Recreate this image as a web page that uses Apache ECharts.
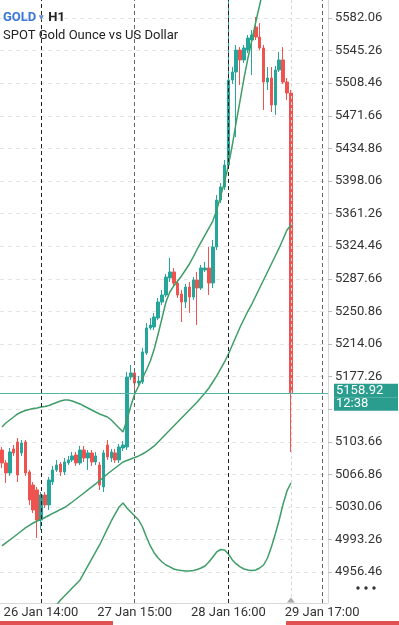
<!DOCTYPE html>
<html>
<head>
<meta charset="utf-8">
<title>GOLD H1</title>
<script src="https://cdn.jsdelivr.net/npm/echarts@6.0.0/dist/echarts.min.js"></script>
<style>
  html, body { margin: 0; padding: 0; background: #fff; }
  #goldChart { width: 399px; height: 625px; }
</style>
</head>
<body>
<div id="goldChart"></div>
<script>
// hourly bars, first one is 26 Jan 04:00, market closed 00:00-01:00
var days = ['26 Jan', '27 Jan', '28 Jan', '29 Jan'];
var firstHour = 4;
var slotCount = 84;
var labelTimes = ['26 Jan 14:00', '27 Jan 15:00', '28 Jan 16:00', '29 Jan 17:00'];

var opens = [5094.4, 5079.8, 5068.5, 5095.6, 5103.5, 5091.1, 5103.5, 5069.6, 5054.9, 5049.3,
  5015.4, 5043.6, 5032.4, 5058.3, 5071.9, 5078.6, 5069.6, 5079.8, 5083.2, 5088.8,
  5079.8, 5094.4, 5085.4, 5091.1, 5080.9, 5077.5, 5052.7, 5100.1, 5085.4, 5091.1,
  5083.2, 5096.7, 5097.8, 5176.8, 5181.4, 5170.1, 5171.2, 5203.9, 5232.2, 5233.3,
  5243.4, 5261.5, 5269.4, 5288.6, 5295.4, 5282.9, 5270.5, 5261.5, 5278.4, 5267.1,
  5286.3, 5277.3, 5297.6, 5299.9, 5282.9, 5323.6, 5376.6, 5391.3, 5416.1, 5512.1,
  5521.1, 5545.9, 5534.7, 5545.9, 5557.2, 5571.9, 5560.6, 5548.2, 5509.8, 5514.3,
  5483.9, 5523.4, 5534.7, 5509.8, 5497.4];
var closes = [5079.8, 5068.5, 5092.2, 5091.1, 5066.2, 5102.3, 5068.5, 5038.0, 5026.7, 5015.4,
  5043.6, 5032.4, 5060.6, 5071.9, 5077.5, 5069.6, 5080.9, 5083.2, 5087.7, 5079.8,
  5094.4, 5085.4, 5091.1, 5080.9, 5087.7, 5054.9, 5091.1, 5086.5, 5092.2, 5083.2,
  5097.8, 5100.1, 5176.8, 5181.4, 5170.1, 5172.3, 5205.1, 5232.2, 5235.5, 5244.6,
  5261.5, 5269.4, 5289.7, 5295.4, 5282.9, 5269.4, 5261.5, 5278.4, 5267.1, 5286.3,
  5277.3, 5299.9, 5299.9, 5282.9, 5323.6, 5376.6, 5391.3, 5416.1, 5512.1, 5521.1,
  5545.9, 5534.7, 5548.2, 5559.5, 5562.9, 5560.6, 5548.2, 5509.8, 5514.3, 5483.9,
  5523.4, 5534.7, 5509.8, 5497.4, 5158.92];
var lows = [5074.1, 5057.2, 5065.1, 5087.7, 5058.3, 5087.7, 5065.1, 5032.4, 5023.3, 4995.1,
  5004.1, 5029.0, 5026.7, 5054.9, 5069.6, 5065.1, 5066.2, 5077.5, 5080.9, 5076.4,
  5077.5, 5080.9, 5071.9, 5076.4, 5077.5, 5049.3, 5047.0, 5083.2, 5080.9, 5079.8,
  5079.8, 5093.3, 5094.4, 5173.5, 5159.9, 5166.7, 5168.9, 5201.7, 5229.9, 5229.9,
  5241.2, 5258.1, 5267.1, 5284.1, 5279.6, 5266.0, 5238.9, 5254.7, 5249.1, 5263.8,
  5235.5, 5275.0, 5295.4, 5269.4, 5277.3, 5320.2, 5373.2, 5387.9, 5412.7, 5507.6,
  5447.7, 5506.4, 5531.3, 5542.6, 5517.7, 5557.2, 5545.9, 5478.2, 5500.8, 5476.0,
  5472.6, 5521.1, 5507.6, 5489.5, 5092.2];
var highs = [5097.8, 5083.2, 5096.7, 5100.1, 5108.0, 5105.7, 5105.7, 5071.9, 5058.3, 5052.7,
  5047.0, 5047.0, 5064.0, 5076.4, 5083.2, 5080.9, 5085.4, 5087.7, 5092.2, 5092.2,
  5099.0, 5099.0, 5094.4, 5094.4, 5092.2, 5080.9, 5094.4, 5105.7, 5095.6, 5095.6,
  5101.2, 5104.6, 5182.5, 5190.4, 5187.0, 5178.0, 5209.6, 5237.8, 5243.4, 5249.1,
  5266.0, 5275.0, 5293.1, 5311.2, 5299.9, 5286.3, 5275.0, 5281.8, 5284.1, 5289.7,
  5295.4, 5303.3, 5306.7, 5323.6, 5331.5, 5382.3, 5395.8, 5421.8, 5615.0, 5526.8,
  5551.6, 5549.3, 5551.6, 5562.9, 5568.5, 5583.2, 5576.4, 5551.6, 5526.8, 5526.8,
  5527.9, 5543.7, 5549.3, 5514.3, 5500.8];

// bands (upper runs off the top of the chart after 28 Jan 22:00)
var upperBand = [5120.4, 5124.9, 5128.3, 5131.7, 5135.1, 5137.3, 5139.0, 5140.2, 5141.3, 5141.8,
  5143.0, 5143.5, 5144.7, 5146.4, 5148.1, 5149.8, 5150.9, 5150.9, 5149.8, 5148.1,
  5146.4, 5144.1, 5141.8, 5139.6, 5137.3, 5135.1, 5133.4, 5131.7, 5128.3, 5123.8,
  5119.3, 5114.8, 5128.3, 5144.1, 5157.7, 5166.7, 5175.7, 5184.7, 5194.9, 5208.4,
  5225.4, 5243.4, 5261.5, 5272.8, 5279.6, 5285.2, 5290.9, 5297.6, 5304.4, 5312.3,
  5321.3, 5329.2, 5337.1, 5345.0, 5352.9, 5365.4, 5381.2, 5397.0, 5416.1, 5438.7,
  5464.7, 5489.5, 5514.4, 5536.9, 5557.2, 5577.6, 5596.8, 5615.9, 5636.3];
var middleBand = [4986.1, 4989.5, 4992.8, 4996.2, 4999.6, 5003.0, 5006.4, 5009.2, 5012.0, 5014.3,
  5016.0, 5018.2, 5020.5, 5022.8, 5025.0, 5027.3, 5029.5, 5032.4, 5035.7, 5039.1,
  5042.5, 5045.9, 5049.3, 5052.7, 5056.1, 5060.0, 5063.4, 5067.3, 5070.7, 5074.1,
  5077.5, 5080.9, 5082.6, 5084.3, 5086.0, 5087.7, 5089.9, 5092.7, 5095.6, 5099.0,
  5103.5, 5108.0, 5112.5, 5117.0, 5121.5, 5126.0, 5130.6, 5135.1, 5139.6, 5144.1,
  5148.6, 5153.7, 5158.8, 5164.4, 5171.2, 5178.0, 5185.9, 5193.8, 5202.8, 5213.0,
  5223.1, 5233.3, 5242.3, 5251.3, 5259.2, 5268.3, 5277.3, 5286.3, 5295.4, 5304.4,
  5313.4, 5322.5, 5332.6, 5342.8, 5348.4];
var lowerBand = [4855.1, 4859.6, 4864.2, 4868.7, 4873.2, 4877.7, 4882.2, 4886.7, 4891.3, 4895.8,
  4900.3, 4904.8, 4909.3, 4913.8, 4919.5, 4925.1, 4929.6, 4934.2, 4938.7, 4943.2,
  4947.7, 4955.6, 4963.5, 4971.4, 4979.3, 4987.2, 4996.2, 5005.3, 5014.3, 5022.2,
  5030.1, 5034.6, 5029.0, 5024.5, 5019.9, 5015.4, 5007.5, 4996.2, 4986.1, 4978.2,
  4972.5, 4968.0, 4964.6, 4962.4, 4960.1, 4959.0, 4958.4, 4957.9, 4957.9, 4958.4,
  4959.5, 4961.2, 4963.5, 4968.0, 4973.7, 4979.3, 4982.1, 4981.6, 4977.0, 4970.3,
  4965.8, 4962.4, 4960.1, 4959.0, 4958.4, 4959.0, 4961.2, 4964.6, 4972.5, 4984.9,
  4999.6, 5015.4, 5033.5, 5048.2, 5057.2];

var priceTicks = [4956.46, 4993.26, 5030.06, 5066.86, 5103.66, 5140.46, 5177.26, 5214.06, 5250.86,
  5287.66, 5324.46, 5361.26, 5398.06, 5434.86, 5471.66, 5508.46, 5545.26, 5582.06];
// 5140.46 sits under the live price box
var priceLabels = [4956.46, 4993.26, 5030.06, 5066.86, 5103.66, 5177.26, 5214.06, 5250.86,
  5287.66, 5324.46, 5361.26, 5398.06, 5434.86, 5471.66, 5508.46, 5545.26, 5582.06];
var yMin = 4921.7;
var yMax = 5602.4;
var lastPrice = 5158.92;
var countdown = '12:38';

function buildCategories() {
  var cats = [], d = 0, h = firstHour;
  while (cats.length < slotCount) {
    cats.push(days[d] + ' ' + (h < 10 ? '0' : '') + h + ':00');
    h++;
    if (h > 23) { h = 1; d++; }
  }
  return cats;
}

var categories = buildCategories();
var ohlc = opens.map(function (o, i) {
  return [o, closes[i], lows[i], highs[i]];
});
var lastCat = categories[closes.length - 1];

var UP = '#26a69a';
var DOWN = '#ef5350';
var BAND = '#3f9d68';
var PRICE = '#52b5a5';
var BOX = '#2a9d8f';
var FONT = 'Roboto';

var myChart = echarts.init(document.getElementById('goldChart'));

var separators = labelTimes.map(function (t, k) {
  return {
    xAxis: t,
    lineStyle: { color: k % 2 ? '#666' : '#222', type: [4, 3], width: 1 }
  };
});
separators.push({ xAxis: lastCat, lineStyle: { color: '#d6d6d6', type: [3, 3], width: 1 } });

var boxRow = {
  backgroundColor: BOX, color: '#fff', fontFamily: FONT, fontSize: 13,
  lineHeight: 13.5, height: 13.5, width: 62, padding: [0, 0, 0, 2]
};

var option = {
  animation: false,
  backgroundColor: '#fff',
  title: {
    left: 3,
    top: 11,
    padding: 0,
    itemGap: 5,
    text: '{g|GOLD}{t|▾}{h|H1}',
    textStyle: {
      fontFamily: FONT,
      rich: {
        g: { color: '#3a77d6', fontWeight: 'bold', fontSize: 13, fontFamily: FONT },
        t: { color: '#6b8fc9', fontSize: 9, padding: [0, 4, 0, 3], fontFamily: FONT },
        h: { color: '#222', fontSize: 13, fontFamily: FONT }
      }
    },
    subtext: 'SPOT Gold Ounce vs US Dollar',
    subtextStyle: { color: '#222', fontSize: 13, fontFamily: FONT }
  },
  grid: { left: 0, right: 71, top: 0, bottom: 22, outerBoundsMode: 'none' },
  xAxis: {
    type: 'category',
    data: categories,
    boundaryGap: true,
    axisLine: { show: true, lineStyle: { color: '#d8d8d8' } },
    axisTick: { show: false },
    axisLabel: {
      interval: function (idx, val) { return labelTimes.indexOf(val) >= 0; },
      color: '#333',
      fontFamily: FONT,
      fontSize: 13,
      margin: 3
    },
    splitLine: { show: false }
  },
  yAxis: {
    type: 'value',
    position: 'right',
    min: yMin,
    max: yMax,
    axisLine: { show: true, lineStyle: { color: '#d8d8d8' } },
    axisTick: { show: true, length: 4, customValues: priceTicks, lineStyle: { color: '#bbb' } },
    axisLabel: {
      customValues: priceLabels,
      formatter: function (v) { return v.toFixed(2); },
      color: '#333',
      fontFamily: FONT,
      fontSize: 13,
      margin: 7
    },
    splitLine: { show: true, lineStyle: { color: '#e4e4e4', type: [4, 4] } }
  },
  series: [
    {
      name: 'GOLD',
      type: 'candlestick',
      data: ohlc,
      barWidth: 3,
      itemStyle: {
        color: UP,
        color0: DOWN,
        borderColor: UP,
        borderColor0: DOWN,
        borderWidth: 1
      },
      markLine: {
        silent: true,
        symbol: ['none', 'none'],
        label: { show: false },
        data: separators
      },
      markPoint: {
        silent: true,
        label: { show: false },
        data: [{
          coord: [lastCat, yMin],
          symbol: 'triangle',
          symbolSize: [8, 5],
          symbolOffset: [0, -3],
          itemStyle: { color: '#aaa' }
        }]
      }
    },
    {
      name: 'Upper',
      type: 'line',
      data: upperBand,
      symbol: 'none',
      lineStyle: { color: BAND, width: 1.5 },
      // live price line with its box on the price scale
      markLine: {
        silent: true,
        symbol: ['none', 'none'],
        itemStyle: { color: PRICE },
        lineStyle: { color: PRICE, type: 'solid', width: 1, opacity: 1 },
        label: {
          show: true,
          position: 'end',
          distance: 6,
          // top padding is empty space, so the teal rows sit a little below the line
          padding: [9, 0, 0, 0],
          formatter: '{p|' + lastPrice.toFixed(2) + '}\n{c|' + countdown + '}',
          rich: { p: boxRow, c: boxRow }
        },
        data: [{ yAxis: lastPrice }]
      }
    },
    {
      name: 'Middle',
      type: 'line',
      data: middleBand,
      symbol: 'none',
      lineStyle: { color: BAND, width: 1.5 }
    },
    {
      name: 'Lower',
      type: 'line',
      data: lowerBand,
      symbol: 'none',
      lineStyle: { color: BAND, width: 1.5 }
    }
  ],
  graphic: [
    { type: 'circle', shape: { cx: 358, cy: 588, r: 1.7 }, style: { fill: '#333' } },
    { type: 'circle', shape: { cx: 366, cy: 588, r: 1.7 }, style: { fill: '#333' } },
    { type: 'circle', shape: { cx: 374, cy: 588, r: 1.7 }, style: { fill: '#333' } },
    { type: 'rect', shape: { x: 0, y: 621, width: 113, height: 4 }, style: { fill: '#e05252' } },
    { type: 'rect', shape: { x: 286, y: 621, width: 113, height: 4 }, style: { fill: '#e05252' } }
  ]
};

myChart.setOption(option);
</script>
</body>
</html>
